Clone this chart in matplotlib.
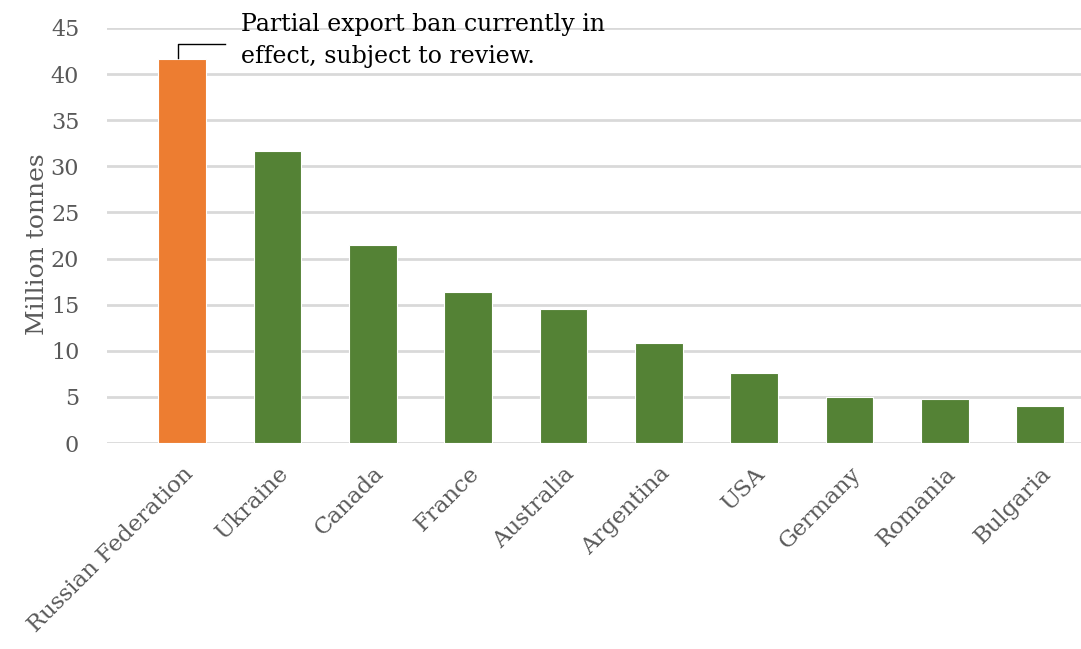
import matplotlib
matplotlib.use("Agg")
import matplotlib.pyplot as plt

countries = ["Russian Federation", "Ukraine", "Canada", "France", "Australia",
             "Argentina", "USA", "Germany", "Romania", "Bulgaria"]
exports = [41.6, 31.7, 21.5, 16.4, 14.5, 10.8, 7.6, 5.0, 4.8, 4.0]
yticks = [0, 5, 10, 15, 20, 25, 30, 35, 40, 45]
note = "Partial export ban currently in\neffect, subject to review."

orange = "#ED7D31"
green = "#548235"
colors = [orange] + [green] * (len(countries) - 1)

plt.rcParams['font.family'] = ['DejaVu Serif']
fig = plt.figure(figsize=(10.81, 6.49), dpi=100)
ax = fig.add_axes([107/1081, 1 - 443/649, (1081-107)/1081, (443-28)/649])

x = list(range(len(countries)))
ax.bar(x, exports, width=0.5, color=colors, edgecolor="white", linewidth=0.8, zorder=3)

ax.set_ylim(0, 45)
ax.set_xlim(-0.79, 9.43)
ax.set_yticks(yticks)
ax.set_yticklabels([str(v) for v in yticks], fontsize=16, color="#595959")
ax.yaxis.grid(True, color="#d9d9d9", linewidth=2.0, linestyle="-", zorder=0)
ax.set_axisbelow(True)
ax.tick_params(axis='both', length=0)
ax.tick_params(axis='y', pad=20)
for s in ax.spines.values():
    s.set_visible(False)

ax.set_xticks(x)
ax.set_xticklabels(countries, rotation=45, ha="right", rotation_mode="anchor",
                   fontsize=16.5, color="#595959")
ax.tick_params(axis='x', pad=14)

ax.set_ylabel("Million tonnes", fontsize=18, color="#595959")
ax.yaxis.set_label_coords(-0.06, 0.48)

# annotation leader and text
ax.plot([-0.05, -0.05, 0.45], [41.7, 43.3, 43.3], color="black", linewidth=1.0,
        zorder=4, clip_on=False)
ax.text(0.62, 46.6, note, fontsize=17, color="black", va="top", ha="left",
        linespacing=1.5, zorder=5)

fig.savefig("out.png", dpi=100, facecolor="white")
